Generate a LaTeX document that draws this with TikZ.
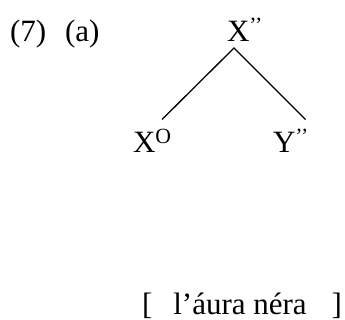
\documentclass[tikz,border=0pt]{standalone}
\usepackage{fontspec}
\setmainfont{Liberation Serif}
\begin{document}
\begin{tikzpicture}[x=1pt,y=-1pt,
  lbl/.style={anchor=base west,inner sep=0pt,outer sep=0pt,font=\fontsize{31}{37}\selectfont},
  branch/.style={line width=1.3pt}]
\useasboundingbox (0,0) rectangle (345,320);
\node[lbl] (num) at (10,41.7) {(7)\hspace{19pt}(a)};
\node[lbl] (top) at (227,41.7) {X\textsuperscript{’’}};
\node[lbl] (xo) at (133,152.3) {X\textsuperscript{O}};
\node[lbl] (yb) at (273,152.3) {Y\textsuperscript{’’}};
\node[lbl] (phrase) at (142,314) {[\hspace{21pt}l’áura néra\hspace{25pt}]};
\coordinate (apex) at (234,48);
\coordinate (lend) at (162,119.5);
\coordinate (rend) at (305.5,119.5);
\draw[branch] (lend) -- (apex) -- (rend);
\end{tikzpicture}
\end{document}
